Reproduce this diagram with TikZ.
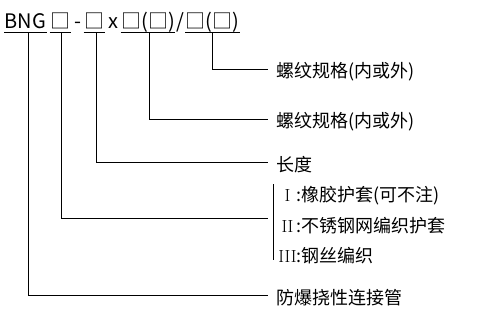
\documentclass[tikz,border=0pt]{standalone}
\usepackage{fontspec}
\newfontfamily\cjk{Noto Sans CJK SC}
\newcommand{\rnum}[1]{\makebox[18pt][c]{\rmfamily\fontsize{17.5}{17.5}\selectfont #1}}
\begin{document}
\begin{tikzpicture}[x=1pt,y=-1pt,line width=1pt,
  top/.style={font=\cjk\fontsize{20}{22}\selectfont, inner sep=0pt, anchor=base},
  lab/.style={font=\cjk\fontsize{18}{20}\selectfont, anchor=west, inner xsep=8pt, inner ysep=0pt},
  blab/.style={font=\cjk\fontsize{18}{20}\selectfont, anchor=west, inner xsep=5pt, inner ysep=0pt}]
\useasboundingbox (0,0) rectangle (484,319);
% top code line
\node[top, minimum width=39pt] (bng) at (25.5,28) {BNG};
\node[top, minimum width=16pt] (s1) at (60,28) {□};
\node[top] (dash) at (78,28) {-};
\node[top, minimum width=16pt] (s2) at (94,28) {□};
\node[top] (x) at (113.5,28) {x};
\node[top, minimum width=48pt] (s3) at (148,28) {□(□)};
\node[top] (sl) at (180.5,28) {/};
\node[top, minimum width=49pt] (s4) at (212.5,28) {□(□)};
\foreach \n in {bng,s1,s2,s3,s4}
  \draw ([yshift=-4pt]\n.base west) -- ([yshift=-4pt]\n.base east);
% labels
\node[lab] (l1) at (268,72) {螺纹规格(内或外)};
\node[lab] (l2) at (268,122) {螺纹规格(内或外)};
\node[lab] (l3) at (268,165) {长度};
\node[lab] (l5) at (268,298) {防爆挠性连接管};
\coordinate (bt) at (273,184);
\coordinate (bb) at (273,260);
\coordinate (bm) at (268,218);
\node[blab] (b1) at (273,196) {\rnum{I}:橡胶护套(可不注)};
\node[blab] (b2) at (273,226) {\rnum{II}:不锈钢网编织护套};
\node[blab] (b3) at (273,256) {\rnum{III}:钢丝编织};
\draw (bt) -- (bb);
% connectors
\draw ([xshift=-0.5pt,yshift=-4pt]s4.base) |- ([yshift=3pt]l1.west);
\draw ([xshift=1pt,yshift=-4pt]s3.base) |- ([yshift=3pt]l2.west);
\draw ([xshift=2pt,yshift=-4pt]s2.base) |- ([yshift=3pt]l3.west);
\draw ([xshift=1pt,yshift=-4pt]s1.base) |- (bm);
\draw ([xshift=2.5pt,yshift=-4pt]bng.base) |- ([yshift=3pt]l5.west);
\end{tikzpicture}
\end{document}
